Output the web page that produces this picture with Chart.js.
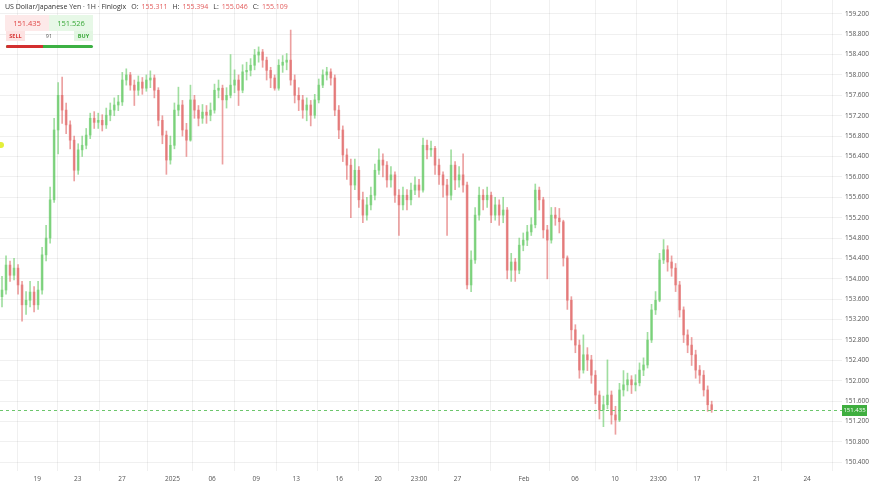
<!DOCTYPE html>
<html>
<head>
<meta charset="utf-8">
<script src="https://cdn.jsdelivr.net/npm/chart.js@4.4.1/dist/chart.umd.min.js"></script>
<style>
  body { margin: 0; background: #fff; font-family: "Open Sans", sans-serif; }
  #wrap { position: relative; width: 872px; height: 487px; }
  #wrap canvas { position: absolute; left: 0; top: 0; }
  .hdr { position: absolute; left: 5px; top: 2px; font-size: 7px; color: #333; white-space: nowrap; }
  .hdr .k { margin-left: 5px; }
  .hdr .v { color: #e25c5c; margin-left: 3px; }
  .box { position: absolute; font-size: 7.5px; text-align: center; }
  .sellp { left: 5px; top: 15px; width: 44px; height: 16px; line-height: 16px; background: #fde9e9; color: #e04646; }
  .buyp { left: 49px; top: 15px; width: 44px; height: 16px; line-height: 16px; background: #e7f8e7; color: #38a838; }
  .sell { left: 6px; top: 31px; width: 19px; height: 10px; line-height: 10px; font-size: 5.5px; font-weight: bold; background: #fde2e2; color: #d83a3a; }
  .spread { left: 39px; top: 31px; width: 20px; height: 10px; line-height: 10px; font-size: 5.5px; color: #555; }
  .buy { left: 74px; top: 31px; width: 19px; height: 10px; line-height: 10px; font-size: 5.5px; font-weight: bold; background: #e2f6e2; color: #3aa83a; }
  .bar { position: absolute; left: 6px; top: 45px; width: 87px; height: 3px; border-radius: 2px; background: #3cb043; overflow: hidden; }
  .bar div { width: 37px; height: 3px; background: #d32f2f; }
  .dot { position: absolute; left: -2px; top: 142px; width: 6px; height: 6px; border-radius: 3px; background: #e4ef3a; }
</style>
</head>
<body>
<div id="wrap">
  <canvas id="fxChart" width="872" height="487"></canvas>
  <div class="hdr">US Dollar/Japanese Yen · 1H · Finlogix<span class="k">O:</span><span class="v">155.311</span><span class="k">H:</span><span class="v">155.394</span><span class="k">L:</span><span class="v">155.046</span><span class="k">C:</span><span class="v">155.109</span></div>
  <div class="box sellp">151.435</div>
  <div class="box buyp">151.526</div>
  <div class="box sell">SELL</div>
  <div class="box spread">91</div>
  <div class="box buy">BUY</div>
  <div class="bar"><div></div></div>
  <div class="dot"></div>
</div>
<script>
// hourly USD/JPY candles (open = previous close)
const firstOpen = 153.65;
const closes = [
  153.78,154.27,154.07,154.21,153.88,153.49,153.58,153.74,153.49,153.78,
  154.47,154.80,155.55,156.92,157.60,157.31,157.02,156.72,156.13,156.53,
  156.62,156.82,157.15,157.07,157.11,157.02,157.21,157.31,157.41,157.47,
  157.90,158.00,157.80,157.70,157.86,157.74,157.90,157.94,157.70,157.11,
  156.82,156.33,156.62,157.31,157.41,156.92,156.72,157.51,157.31,157.15,
  157.27,157.21,157.31,157.70,157.74,157.51,157.60,157.80,157.90,157.70,
  158.06,158.09,158.19,158.39,158.45,158.29,158.09,157.94,157.74,158.19,
  158.25,158.29,157.90,157.60,157.51,157.31,157.41,157.21,157.51,157.80,
  158.00,158.06,157.94,157.31,156.92,156.43,156.23,155.84,156.13,155.55,
  155.25,155.45,155.64,156.13,156.33,156.23,155.94,156.04,155.64,155.45,
  155.64,155.55,155.74,155.84,155.74,156.62,156.53,156.56,156.23,156.04,
  155.84,155.64,156.23,155.94,156.04,155.84,153.88,154.37,155.25,155.64,
  155.55,155.64,155.25,155.45,155.25,155.35,154.17,154.33,154.17,154.66,
  154.76,154.92,155.06,155.74,155.55,154.96,154.76,155.25,155.19,155.12,
  154.41,153.58,153.00,152.70,152.21,152.51,152.41,152.11,151.72,151.43,
  151.53,151.72,151.33,151.23,151.82,151.92,152.02,151.92,151.96,152.21,
  152.31,152.80,153.39,153.58,154.37,154.57,154.33,154.21,153.88,153.39,
  152.90,152.70,152.51,152.21,152.11,151.82,151.53,151.435
];
const highs = [
  154.05,154.45,154.35,154.40,154.28,153.95,153.75,153.95,153.85,153.95,
  154.62,155.05,155.80,157.15,157.85,157.96,157.45,157.10,156.80,156.65,
  156.80,156.95,157.25,157.28,157.25,157.22,157.35,157.45,157.55,157.60,
  158.05,158.12,158.05,157.90,157.98,157.95,158.00,158.08,158.00,157.75,
  157.20,156.90,156.80,157.45,157.76,157.50,157.05,157.80,157.60,157.40,
  157.42,157.40,157.45,157.82,157.90,157.80,157.75,158.40,158.10,158.00,
  158.20,158.25,158.32,158.50,158.55,158.50,158.35,158.15,158.00,158.30,
  158.38,158.42,158.88,158.00,157.75,157.60,157.55,157.50,157.62,157.92,
  158.10,158.15,158.12,158.00,157.40,157.00,156.55,156.35,156.35,156.20,
  155.70,155.60,155.80,156.25,156.55,156.45,156.30,156.20,156.10,155.75,
  155.80,155.75,155.88,156.00,155.95,156.76,156.72,156.70,156.60,156.35,
  156.10,155.95,156.53,156.30,156.20,156.45,155.90,154.55,155.40,155.80,
  155.75,155.80,155.70,155.60,155.55,155.60,155.40,154.50,154.40,154.80,
  154.90,155.05,155.20,155.86,155.80,155.60,155.05,155.40,155.40,155.38,
  155.15,154.45,153.65,153.10,152.80,152.90,152.65,152.50,152.20,151.80,
  151.70,152.41,151.80,151.50,151.95,152.20,152.15,152.10,152.12,152.35,
  152.45,152.95,153.50,153.75,154.50,154.77,154.65,154.45,154.30,153.95,
  153.45,153.00,152.85,152.60,152.30,152.20,151.90,151.60
];
const lows = [
  153.45,153.70,153.95,153.98,153.70,153.17,153.30,153.45,153.35,153.40,
  153.70,154.35,154.70,155.50,156.45,157.05,156.85,156.55,155.92,156.05,
  156.40,156.55,156.75,156.95,156.95,156.90,156.95,157.10,157.20,157.30,
  157.40,157.80,157.70,157.40,157.60,157.62,157.68,157.75,157.55,157.00,
  156.65,156.05,156.25,156.55,157.20,156.80,156.40,156.70,157.15,157.00,
  157.05,157.05,157.10,157.25,157.55,156.25,157.35,157.55,157.65,157.40,
  157.65,157.90,157.98,158.10,158.25,158.15,157.90,157.75,157.70,157.70,
  158.05,158.10,157.80,157.45,157.30,157.15,157.10,157.00,157.15,157.45,
  157.75,157.90,157.80,157.20,156.75,156.30,155.95,155.20,155.75,155.40,
  155.10,155.15,155.35,155.55,156.05,156.00,155.80,155.80,155.50,154.85,
  155.35,155.35,155.45,155.65,155.60,155.70,156.35,156.40,156.05,155.85,
  155.60,154.85,155.55,155.75,155.80,155.70,153.80,153.75,154.30,155.15,
  155.35,155.40,155.10,155.15,155.05,155.10,154.00,153.95,153.95,154.10,
  154.55,154.65,154.85,155.00,155.35,154.80,154.00,154.70,155.05,154.90,
  154.25,153.40,152.80,152.55,152.05,152.15,152.20,151.95,151.55,151.25,
  151.10,151.45,151.15,150.95,151.20,151.70,151.80,151.75,151.80,151.90,
  152.10,152.25,152.75,153.30,153.55,154.30,154.15,154.05,153.75,153.25,
  152.75,152.55,152.30,152.05,151.95,151.70,151.40,151.38
];
// time axis: candle index where each date label sits (weekends removed)
const tickIndex = [8.8, 18.9, 29.9, 42.5, 52.4, 63.4, 73.4, 84.1, 93.8, 104, 113.6, 130.2, 142.9, 152.9, 163.7, 173.3, 188.2, 200.8];
const tickText = ["19", "23", "27", "2025", "06", "09", "13", "16", "20", "23:00", "27", "Feb", "06", "10", "23:00", "17", "21", "24"];
const slotCount = 210;
const lastPrice = 151.435;

const opens = closes.map((c, i) => (i === 0 ? firstOpen : closes[i - 1]));
const upColor = "rgba(96,200,96,0.6)";
const downColor = "rgba(224,96,96,0.6)";
const candleColor = (ctx) => (closes[ctx.dataIndex] >= opens[ctx.dataIndex] ? upColor : downColor);

const bodies = closes.map((c, i) => ({ x: i, y: [opens[i], c] }));
const wicks = closes.map((c, i) => ({ x: i, y: [lows[i], highs[i]] }));

const priceLine = {
  id: "priceLine",
  afterDatasetsDraw(chart) {
    const { ctx, chartArea } = chart;
    const y = Math.round(chart.scales.y.getPixelForValue(lastPrice)) + 0.5;
    ctx.save();
    ctx.strokeStyle = "#6cc66c";
    ctx.lineWidth = 1;
    ctx.setLineDash([3, 3]);
    ctx.beginPath();
    ctx.moveTo(chartArea.left, y);
    ctx.lineTo(chartArea.right, y);
    ctx.stroke();
    ctx.restore();
  },
  afterDraw(chart) {
    const { ctx, chartArea } = chart;
    const y = Math.round(chart.scales.y.getPixelForValue(lastPrice));
    ctx.save();
    ctx.fillStyle = "#3fae3f";
    ctx.fillRect(chartArea.right, y - 5, 25, 11);
    ctx.fillStyle = "#fff";
    ctx.font = "6px 'Open Sans'";
    ctx.textAlign = "center";
    ctx.textBaseline = "middle";
    ctx.fillText(lastPrice.toFixed(3), chartArea.right + 12.5, y + 0.5);
    ctx.restore();
  },
};

const gridColor = "rgba(0,0,0,0.06)";

new Chart(document.getElementById("fxChart"), {
  type: "bar",
  data: {
    datasets: [
      { data: wicks, backgroundColor: candleColor, barThickness: 1, grouped: false, borderWidth: 0 },
      { data: bodies, backgroundColor: candleColor, barThickness: 2, grouped: false, borderWidth: 0 },
    ],
  },
  options: {
    responsive: false,
    animation: false,
    devicePixelRatio: 1,
    layout: { padding: 0 },
    plugins: { legend: { display: false }, tooltip: { enabled: false } },
    scales: {
      x: {
        type: "linear",
        offset: false,
        min: -0.5,
        max: slotCount - 0.5,
        afterBuildTicks: (scale) => {
          scale.ticks = tickIndex.map((v) => ({ value: v }));
        },
        afterFit: (scale) => {
          scale.height = 16;
          scale.paddingLeft = 0;
          scale.paddingRight = 0;
        },
        ticks: {
          autoSkip: false,
          maxRotation: 0,
          padding: 4,
          color: "#555",
          font: { family: "Open Sans", size: 6.5 },
          callback: (value, index) => tickText[index],
        },
        grid: { color: gridColor, drawTicks: false },
        border: { display: false },
      },
      y: {
        position: "right",
        min: 150.23,
        max: 159.47,
        afterFit: (scale) => {
          scale.width = 30;
          scale.paddingTop = 0;
          scale.paddingBottom = 0;
        },
        ticks: {
          stepSize: 0.4,
          includeBounds: false,
          padding: 3,
          color: "#555",
          font: { family: "Open Sans", size: 6.5 },
          callback: (v) => v.toFixed(3),
        },
        grid: { color: gridColor, drawTicks: false },
        border: { display: false },
      },
    },
  },
  plugins: [priceLine],
});
</script>
</body>
</html>
